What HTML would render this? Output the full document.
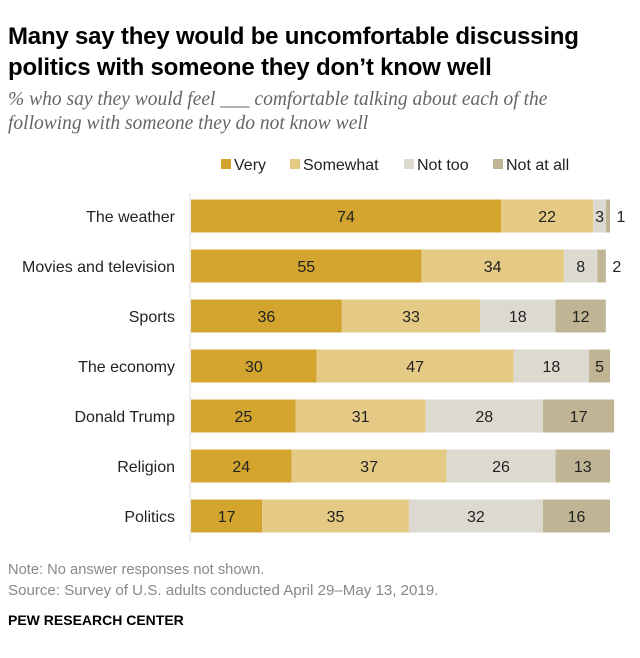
<!DOCTYPE html>
<html><head><meta charset="utf-8"><style>
body{margin:0;background:#fff;font-family:"Liberation Sans",Arial,sans-serif;}
#wrap{position:relative;width:640px;height:658px;overflow:hidden;}
.t{position:absolute;white-space:nowrap;}
</style></head><body>
<div id="wrap">
<div class="t" style="left:8px;top:21px;font-size:24px;font-weight:bold;line-height:31px;color:#000;letter-spacing:-0.2px">Many say they would be uncomfortable discussing<br>politics with someone they don’t know well</div>
<div class="t" style="left:8px;top:88px;font-family:'Liberation Serif',serif;font-size:19.5px;font-style:italic;line-height:24px;color:#666">% who say they would feel ___ comfortable talking about each of the<br>following with someone they do not know well</div>
<svg id="chart" width="640" height="658" style="position:absolute;left:0;top:0"></svg>
<div class="t" style="left:8px;top:562px;font-size:14.7px;color:#888">Note: No answer responses not shown.</div>
<div class="t" style="left:8px;top:582px;font-size:15.1px;color:#888">Source: Survey of U.S. adults conducted April 29–May 13, 2019.</div>
<div class="t" style="left:8px;top:612px;font-size:14px;font-weight:bold;color:#000">PEW RESEARCH CENTER</div>
</div>
<script>
const categories=["The weather","Movies and television","Sports","The economy","Donald Trump","Religion","Politics"];
const very=[74,55,36,30,25,24,17];
const somewhat=[22,34,33,47,31,37,35];
const notToo=[3,8,18,18,28,26,32];
const notAtAll=[1,2,12,5,17,13,16];
const seriesNames=["Very","Somewhat","Not too","Not at all"];
const colors=["#d3a52f","#e5ca85","#dcdad0","#bfb594"];
const NS="http://www.w3.org/2000/svg";
const svg=document.getElementById('chart');
const x0=191,scale=4.19;
const xs=v=>v*scale;
const yc=i=>216+i*50;
const barH=33;
function mk(t,a){const e=document.createElementNS(NS,t);for(const k in a)e.setAttribute(k,a[k]);svg.appendChild(e);return e;}
const ax=mk('line',{x1:190,x2:190,y1:193,y2:542,stroke:'#ddd','stroke-width':1});


const legX=[221,290,404,493];
seriesNames.forEach((n,j)=>{
 const r=mk('rect',{x:legX[j],y:159,width:10,height:10,fill:colors[j]});
 
 
 const t=mk('text',{x:legX[j]+13,y:170,'font-size':16,fill:'#222','font-family':'Liberation Sans, Arial, sans-serif'});
 t.textContent=n;
 
 
});
const series=[very,somewhat,notToo,notAtAll];
categories.forEach((c,i)=>{
 const lab=mk('text',{x:175,y:yc(i)+6,'text-anchor':'end','font-size':16,fill:'#222','font-family':'Liberation Sans, Arial, sans-serif'});
 lab.textContent=c;
 
 
 let x=x0;
 series.forEach((s,j)=>{
  const w=xs(s[i]);
  const r=mk('rect',{x:x,y:yc(i)-barH/2,width:w,height:barH,fill:colors[j]});
  
  
  const small=w<14;
  const tx=small?x+w+(j==3?11:6):x+w/2;
  const t=mk('text',{x:tx,y:yc(i)+6,'text-anchor':'middle','font-size':16,fill:'#222','font-family':'Liberation Sans, Arial, sans-serif'});
  if(small&&j==2){t.setAttribute('x',x+w/2);}
  t.textContent=s[i];
  
  
  x+=w;
 });
});
</script>
</body></html>
